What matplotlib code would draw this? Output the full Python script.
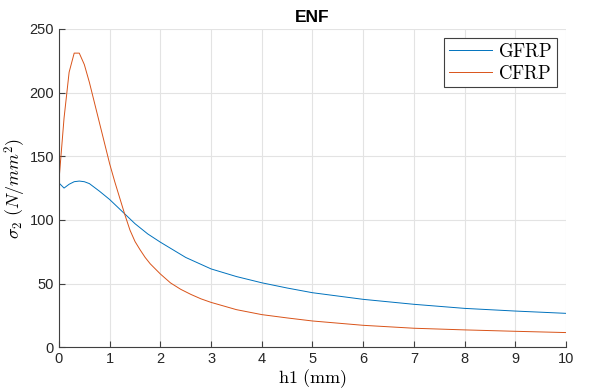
import numpy as np
import matplotlib.pyplot as plt

plt.rcParams['font.family'] = ['Liberation Sans', 'DejaVu Sans']
plt.rcParams['mathtext.fontset'] = 'cm'

h_gfrp = [0, 0.1, 0.2, 0.3, 0.4, 0.5, 0.6, 0.8, 1.0, 1.25, 1.5, 1.75, 2, 2.5, 3, 3.5,
          4, 4.5, 5, 6, 7, 8, 9, 10]
s_gfrp = [129, 125, 128, 130, 130.5, 130, 128.5, 122.5, 116, 106.5, 97, 89, 82.5, 70.5, 61.5, 55.5,
          50.6, 46.5, 42.8, 37.6, 33.7, 30.5, 28.4, 26.6]

h_cfrp = [0, 0.1, 0.2, 0.3, 0.4, 0.5, 0.6, 0.7, 0.8, 0.9, 1.0, 1.1, 1.2, 1.3, 1.4, 1.5,
          1.6, 1.7, 1.8, 2, 2.2, 2.4, 2.6, 2.8, 3, 3.5, 4, 4.5, 5, 6, 7, 8, 9, 10]
s_cfrp = [131, 180, 216, 231, 231, 222, 208, 192, 176, 160, 144, 130, 117, 104, 92, 83,
          76.5, 70.5, 65.5, 57.5, 50.5, 45.5, 41.5, 38, 35.2, 29.5, 25.6, 23, 20.6, 17.2,
          14.9, 13.6, 12.5, 11.5]

fig = plt.figure(figsize=(6, 3.91), dpi=100)
ax = fig.add_axes([0.0983, 0.112, 0.845, 0.814])

ax.plot(h_gfrp, s_gfrp, color=(0, 0.447, 0.741), lw=0.7, label=r'$\mathrm{GFRP}$')
ax.plot(h_cfrp, s_cfrp, color=(0.85, 0.325, 0.098), lw=0.7, label=r'$\mathrm{CFRP}$')

ax.set_xlim(0, 10)
ax.set_ylim(0, 250)
ax.set_xticks(np.arange(0, 11, 1))
ax.set_yticks(np.arange(0, 251, 50))
ax.grid(True, color='#e3e3e3', lw=0.8)
ax.set_axisbelow(True)
for s in ['top', 'right']:
    ax.spines[s].set_visible(False)
for s in ['left', 'bottom']:
    ax.spines[s].set_color('#404040')
    ax.spines[s].set_linewidth(0.8)
ax.tick_params(direction='in', length=4, colors='#404040', labelsize=10.5,
               labelcolor='#262626')

ax.set_title('ENF', fontweight='bold', fontsize=12.5, pad=5)
ax.set_xlabel(r'$\mathrm{h1\ (mm)}$', fontsize=13, labelpad=1)
ax.set_ylabel(r'$\sigma_2\ (N/mm^2)$', fontsize=13, labelpad=1)

leg = ax.legend(loc='upper right', fontsize=13.5, fancybox=False, framealpha=1,
                edgecolor='#404040', handlelength=2.3, borderaxespad=0.5,
                handletextpad=0.3, borderpad=0.25, labelspacing=0.2)
leg.get_frame().set_linewidth(0.8)

fig.savefig('out.png', dpi=100)
